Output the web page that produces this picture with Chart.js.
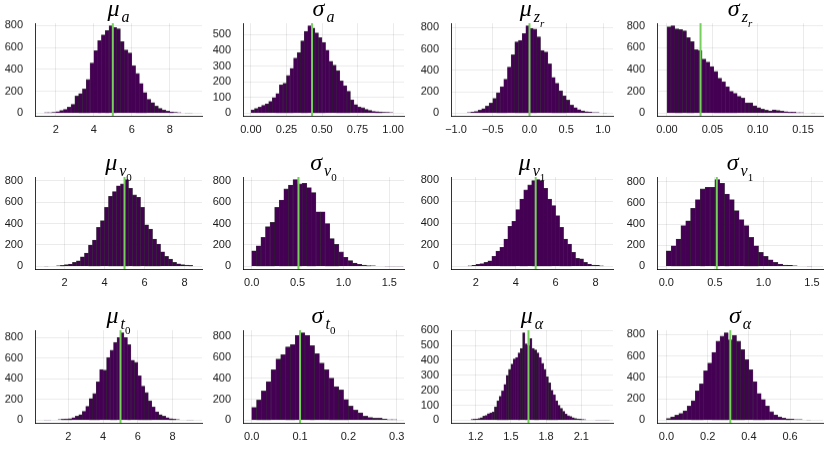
<!DOCTYPE html>
<html><head><meta charset="utf-8">
<script src="https://cdn.jsdelivr.net/npm/chart.js@4.4.0/dist/chart.umd.min.js"></script>
<style>
html,body{margin:0;padding:0;background:#fff;width:830px;height:461px;overflow:hidden;}
#wrap{position:relative;width:830px;height:461px;overflow:hidden;}
canvas{position:absolute;}
.ttl{position:absolute;text-align:center;white-space:nowrap;font-family:'Liberation Serif',serif;font-style:italic;color:#000;font-size:24px;line-height:24px;height:24px;}
.s1{font-size:16px;position:relative;top:6px;margin-left:2px;}
.s2{font-size:11px;position:relative;top:5px;font-style:normal;}
.s2i{font-size:11px;position:relative;top:5px;font-style:italic;}
</style></head><body><div id="wrap"></div>
<script>
// ---- data (histogram counts) ----
const muA      = [5,5,8,15,25,35,55,82,156,180,220,308,458,571,662,714,754,797,781,770,653,577,550,434,363,272,189,128,98,64,45,30,18,12,8,5,3,2,2];
const sigmaA   = [22,30,38,50,60,75,100,125,180,190,240,285,350,385,460,520,555,540,510,480,450,400,330,305,270,205,175,140,85,55,40,35,25,18,12,10,8,6,5,4];
const muZr     = [3,4,6,9,16,28,44,66,94,138,191,248,317,430,545,665,680,743,815,790,784,712,586,570,460,335,279,210,163,122,75,53,34,22,15,9,6,5,3,2];
const sigmaZr  = [790,800,772,766,754,692,655,582,575,495,468,428,382,320,289,243,200,182,154,138,95,95,68,52,37,28,22,31,25,18,15,9,9,6,6,4,3,2];
const muV0     = [2,3,4,6,9,16,22,37,53,90,125,199,246,364,427,551,654,698,753,770,810,729,667,645,551,389,349,255,209,137,93,69,37,25,16,12,9];
const sigmaV0  = [146,193,271,371,411,551,620,723,760,810,770,775,735,690,510,510,400,260,205,135,85,55,32,20,12,8,6,4,3,2,2,1,1];
const muV1     = [3,4,6,9,19,25,37,52,93,142,176,253,370,417,525,623,707,753,793,802,793,722,623,562,469,361,253,207,130,74,71,37,22,12,9,6,3];
const sigmaV1  = [148,195,258,384,431,548,630,731,746,746,819,784,683,630,526,441,384,274,195,132,94,63,38,22,13,9,6,4,3,2];
const muT0     = [2,2,3,4,6,10,13,16,26,39,55,87,135,210,258,371,490,484,606,677,752,800,845,800,730,580,560,429,329,268,187,129,81,55,39,26,16,10,6,4,3,2,2];
const sigmaT0  = [122,192,278,368,480,582,624,698,720,806,832,806,710,634,544,480,400,320,288,198,134,96,70,38,26,19,19,10,6,5];
const muAlpha  = [2,2,3,3,5,7,8,12,18,28,32,45,50,55,90,130,160,195,240,300,340,375,410,420,450,480,584,510,500,545,480,470,450,420,380,340,290,250,200,170,130,100,80,60,42,30,25,18,12,9,7,5,4,3,3,2,2,1,1,1,1,1,1];
const sigmaAlpha = [16,31,47,63,88,132,182,273,339,461,533,633,737,784,815,750,790,737,658,564,470,360,250,194,132,80,50,30,20,13,9,6,5,3,2];

const seriesCounts = [muA, sigmaA, muZr, sigmaZr, muV0, sigmaV0, muV1, sigmaV1, muT0, sigmaT0, muAlpha, sigmaAlpha];
const binStart = [1.4, 0, -0.95, 0, 1.0, 0, 1.2, 0, 0.6, 0, 1.08, 0];
const binWidth = [0.2, 0.025, 0.05, 0.0043, 0.2, 0.05, 0.2, 0.05, 0.2, 0.01, 0.02, 0.02];
const trueValue = [5.0, 0.43, 0.0, 0.037, 5.0, 0.51, 5.0, 0.52, 5.0, 0.1, 1.65, 0.31];
const xMin = [0.9, -0.056, -1.068, -0.011, 0.53, -0.095, 0.75, -0.096, 0.08, -0.018, 0.99, -0.046];
const xMax = [9.7, 1.077, 1.136, 0.172, 8.87, 1.66, 8.88, 1.614, 9.69, 0.315, 2.37, 0.76];

const xTickValues = [
  [2,4,6,8], [0,0.25,0.5,0.75,1.0], [-1,-0.5,0,0.5,1], [0,0.05,0.1,0.15],
  [2,4,6,8], [0,0.5,1.0,1.5], [2,4,6,8], [0,0.5,1.0,1.5],
  [2,4,6,8], [0,0.1,0.2,0.3], [1.2,1.5,1.8,2.1], [0,0.2,0.4,0.6]
];
const xTickLabels = [
  ['2','4','6','8'], ['0.00','0.25','0.50','0.75','1.00'], ['\u22121.0','\u22120.5','0.0','0.5','1.0'], ['0.00','0.05','0.10','0.15'],
  ['2','4','6','8'], ['0.0','0.5','1.0','1.5'], ['2','4','6','8'], ['0.0','0.5','1.0','1.5'],
  ['2','4','6','8'], ['0.0','0.1','0.2','0.3'], ['1.2','1.5','1.8','2.1'], ['0.0','0.2','0.4','0.6']
];
const yTicks800 = [0,200,400,600,800];
const yTicks500 = [0,100,200,300,400,500];
const yTicks600 = [0,100,200,300,400,500,600];
const yTickValues = [yTicks800, yTicks500, yTicks800, yTicks800, yTicks800, yTicks800, yTicks800, yTicks800, yTicks800, yTicks800, yTicks600, yTicks800];

const titleMain = ['\u03bc','\u03c3','\u03bc','\u03c3','\u03bc','\u03c3','\u03bc','\u03c3','\u03bc','\u03c3','\u03bc','\u03c3'];
const titleSub  = ['a','a','z','z','v','v','v','v','t','t','\u03b1','\u03b1'];
const titleSub2 = ['','','r','r','0','0','1','1','0','0','',''];

// ---- layout ----
const colLeft = [35, 243, 451, 657];
const colRight = [202, 404, 613, 823];
const rowTop = [23, 176.5, 330];
const plotH = 92.5;
const AXW = 35, PT = 20, PR = 12, XH = 22, PB = 2;
const tickFont = {family: "'Liberation Sans', Arial, sans-serif", size: 11};
const wrap = document.getElementById('wrap');

for (let i = 0; i < 12; i++) {
  const r = Math.floor(i / 4), c = i % 4;
  const counts = seriesCounts[i];
  const peak = Math.max(...counts);
  const yMin = -0.03 * peak, yMax = 1.03 * peak;
  const plotW = colRight[c] - colLeft[c];
  const W = plotW + AXW + PR, H = PT + plotH + XH + PB;
  const cv = document.createElement('canvas');
  cv.width = W; cv.height = H;
  cv.style.left = (colLeft[c] - AXW) + 'px';
  cv.style.top = (rowTop[r] - PT) + 'px';
  cv.style.width = W + 'px'; cv.style.height = H + 'px';
  wrap.appendChild(cv);

  const t = document.createElement('div');
  t.className = 'ttl';
  t.style.left = colLeft[c] + 'px';
  t.style.width = plotW + 'px';
  t.style.top = (rowTop[r] - 27) + 'px';
  let sub2 = '';
  if (titleSub2[i]) {
    const isDigit = /[0-9]/.test(titleSub2[i]);
    sub2 = '<span class="' + (isDigit ? 's2' : 's2i') + '">' + titleSub2[i] + '</span>';
  }
  t.innerHTML = '<span class="m">' + titleMain[i] + '</span><span class="s1">' + titleSub[i] + sub2 + '</span>';
  wrap.appendChild(t);

  const xt = xTickValues[i], xl = xTickLabels[i], yt = yTickValues[i];
  const barData = counts.map((v, k) => ({x: binStart[i] + binWidth[i] * (k + 0.5), y: v}));
  new Chart(cv, {
    data: {
      datasets: [
        {type: 'line', data: [{x: trueValue[i], y: yMin}, {x: trueValue[i], y: yMax}],
         borderColor: '#74d05a', borderWidth: 2, pointRadius: 0, order: 0, clip: 0},
        {type: 'bar', data: barData, backgroundColor: '#440154', borderColor: 'rgba(0,0,0,0.75)',
         borderWidth: {left: 0.5, right: 0.5, top: 0.6, bottom: 0}, borderSkipped: 'bottom',
         barPercentage: 1, categoryPercentage: 1, order: 1}
      ]
    },
    options: {
      responsive: false, animation: false, events: [],
      layout: {padding: {top: PT, right: PR, bottom: PB, left: 0}},
      plugins: {legend: {display: false}, tooltip: {enabled: false}},
      scales: {
        x: {type: 'linear', min: xMin[i], max: xMax[i], offset: false,
            afterBuildTicks: s => { s.ticks = xt.map(v => ({value: v})); },
            afterFit: s => { s.height = XH; },
            grid: {offset: false, color: 'rgba(0,0,0,0.08)', lineWidth: 1, drawTicks: false},
            border: {color: 'rgba(0,0,0,0.8)', width: 1},
            ticks: {padding: 7, font: tickFont, color: '#1a1a1a', autoSkip: false, maxRotation: 0,
                    callback: (v, idx) => xl[idx]}},
        y: {type: 'linear', min: yMin, max: yMax,
            afterBuildTicks: s => { s.ticks = yt.map(v => ({value: v})); },
            afterFit: s => { s.width = AXW; },
            grid: {color: 'rgba(0,0,0,0.08)', lineWidth: 1, drawTicks: false},
            border: {color: 'rgba(0,0,0,0.8)', width: 1},
            ticks: {padding: 12, font: tickFont, color: '#1a1a1a', autoSkip: false,
                    callback: v => String(v)}}
      }
    }
  });
}
</script></body></html>
